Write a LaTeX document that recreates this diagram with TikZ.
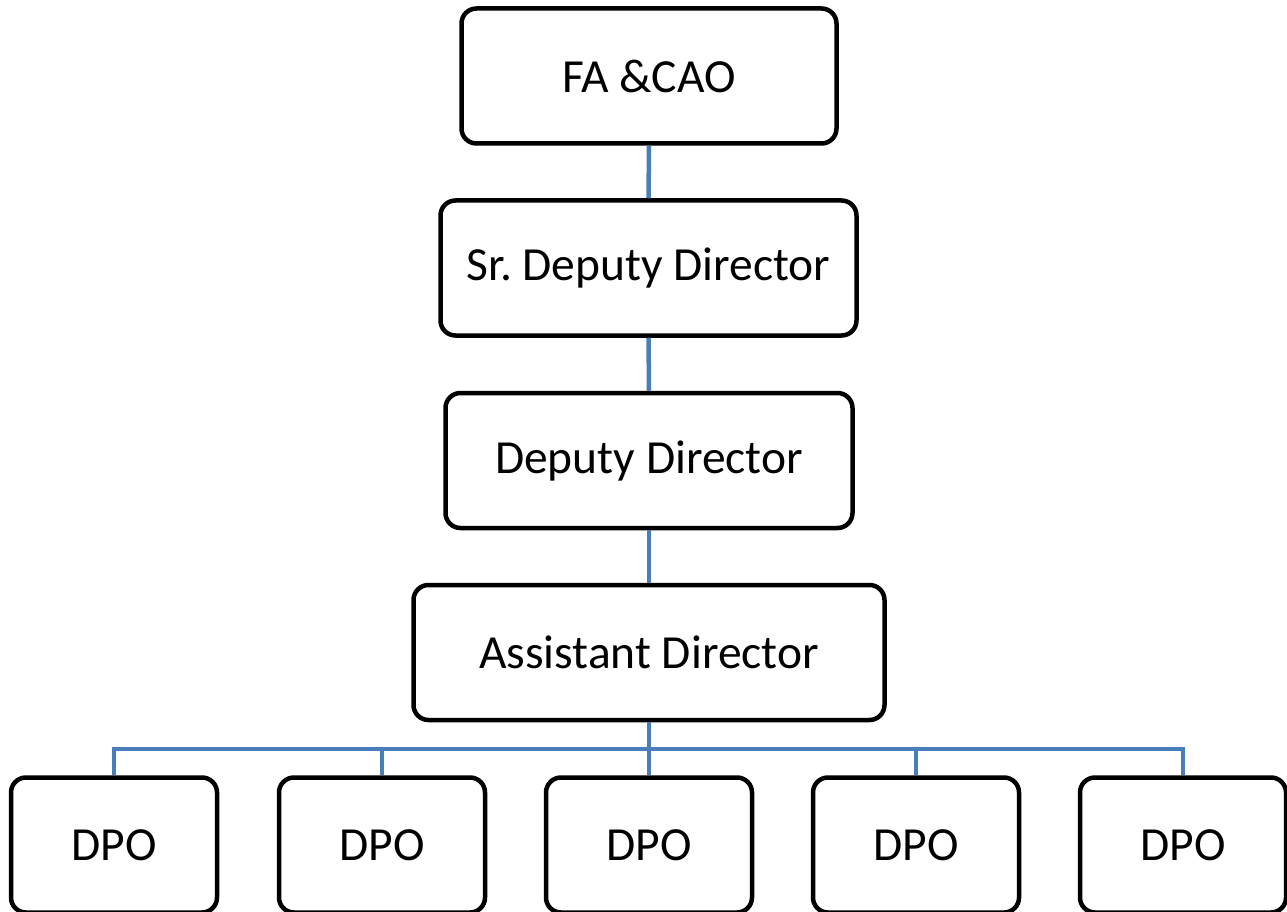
\documentclass[tikz,border=0pt]{standalone}
\usepackage{fontspec}
\setmainfont{Carlito}
\definecolor{linkblue}{HTML}{4A7EBB}
\frenchspacing
\begin{document}
\begin{tikzpicture}[x=1pt,y=-1pt,
  orgbox/.style={draw=black, fill=white, line width=4.5pt, rounded corners=15pt,
    rectangle, inner sep=0pt, minimum height=135pt,
    font=\fontsize{47.5}{56}\selectfont},
  dpobox/.style={orgbox, minimum width=206pt},
  conn/.style={draw=linkblue, line width=4.5pt}]
\useasboundingbox (0,0) rectangle (1287,912);

% management chain
\node[orgbox, minimum width=375pt] (fa)  at (649,76)    {FA \&CAO};
\node[orgbox, minimum width=416pt] (sdd) at (648.5,268) {Sr. Deputy Director};
\node[orgbox, minimum width=407pt] (dd)  at (649,460.5) {Deputy Director};
\node[orgbox, minimum width=471pt] (ad)  at (649,652.5) {Assistant Director};

% DPO row
\node[dpobox] (dpo1) at (114,845)  {DPO};
\node[dpobox] (dpo2) at (382,845)  {DPO};
\node[dpobox] (dpo3) at (649,845)  {DPO};
\node[dpobox] (dpo4) at (916,845)  {DPO};
\node[dpobox] (dpo5) at (1183,845) {DPO};

\coordinate (bus) at (649,749);

% vertical links
\draw[conn] (fa.south)  -- (sdd.north);
\draw[conn] (sdd.south) -- (dd.north);
\draw[conn] (dd.south)  -- (ad.north);
\draw[conn] (ad.south)  -- (dpo3.north);

% horizontal bus to the DPO row
\draw[conn] (dpo1.north) |- (dpo5.north |- bus) -- (dpo5.north);
\draw[conn] (dpo2.north) -- (dpo2.north |- bus);
\draw[conn] (dpo4.north) -- (dpo4.north |- bus);
\end{tikzpicture}
\end{document}
